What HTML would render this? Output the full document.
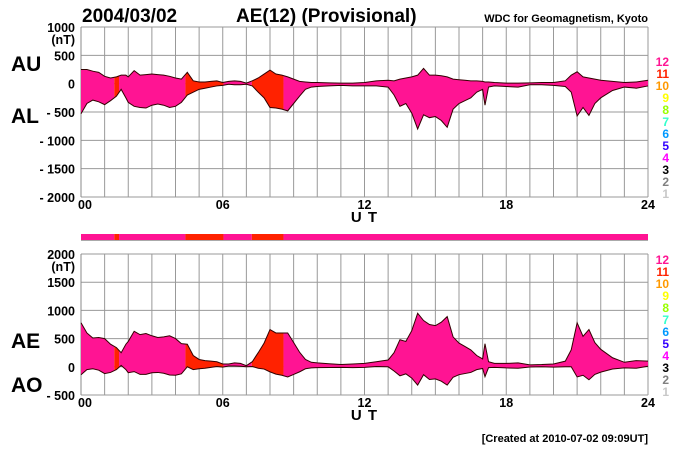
<!DOCTYPE html>
<html><head><meta charset="utf-8"><style>
html,body{margin:0;padding:0;background:#fff;}
svg{display:block;font-family:"Liberation Sans",Arial,sans-serif;font-weight:bold;}
</style></head><body>
<svg id="chart" width="700" height="450" viewBox="0 0 700 450" xmlns="http://www.w3.org/2000/svg">
<text x="82" y="22" font-size="19">2004/03/02</text>
<text x="236" y="22" font-size="19">AE(12) (Provisional)</text>
<text x="648" y="22" font-size="11" text-anchor="end">WDC for Geomagnetism, Kyoto</text>
<text x="11" y="71" font-size="21">AU</text>
<text x="11" y="123" font-size="21">AL</text>
<text x="11" y="348" font-size="21">AE</text>
<text x="11" y="392" font-size="21">AO</text>
<text x="648" y="442" font-size="11" text-anchor="end">[Created at 2010-07-02 09:09UT]</text>
<g id="top"></g><g id="bot"></g><g id="bar"></g><g id="legends"></g>
</svg>
<script>
const hours = [0,0.25,0.5,0.75,1,1.25,1.5,1.7,1.9,2,2.25,2.5,2.75,3,3.25,3.5,3.75,4,4.25,4.5,4.75,5,5.25,5.5,5.75,6,6.25,6.5,6.75,7,7.25,7.5,7.75,8,8.25,8.5,8.75,9,9.25,9.5,9.75,10,10.5,11,11.5,12,12.5,13,13.25,13.5,13.75,14,14.25,14.5,14.75,15,15.25,15.5,15.75,16,16.25,16.5,16.75,17,17.1,17.25,17.5,18,18.5,19,19.5,20,20.5,20.75,21,21.25,21.5,21.75,22,22.5,23,23.5,24];
const auValues = [250,250,220,200,130,100,120,150,150,120,230,150,160,170,160,150,130,100,80,200,50,30,30,40,50,20,40,50,40,10,50,100,170,240,170,150,120,80,40,30,20,20,15,10,10,20,50,60,50,80,100,120,150,270,150,150,140,120,80,70,60,50,50,40,30,30,20,10,10,15,20,20,50,150,210,120,100,80,60,40,20,30,60];
const alValues = [-530,-350,-290,-320,-370,-300,-220,-100,-250,-330,-400,-420,-430,-380,-360,-380,-420,-400,-330,-200,-150,-100,-80,-60,-40,-30,-10,-20,-20,-10,-40,-150,-250,-420,-430,-450,-480,-350,-220,-100,-60,-50,-40,-30,-40,-40,-40,-60,-200,-400,-350,-520,-800,-550,-600,-580,-650,-770,-450,-350,-300,-250,-150,-100,-380,-60,-40,-50,-60,-20,-20,-30,-50,-150,-570,-420,-560,-350,-250,-120,-60,-80,-40];
const segStart = [0,1.41,1.61,4.42,6.03,7.23,8.57];
const segEnd = [1.41,1.61,4.42,6.03,7.23,8.57,24];
const segCount = [12,11,12,11,12,11,12];
const topTicks = [1000,500,0,-500,-1000,-1500,-2000];
const botTicks = [2000,1500,1000,500,0,-500];
const xTickLabels = ["00","06","12","18","24"];
const legendCounts = [12,11,10,9,8,7,6,5,4,3,2,1];
const legendColors = ["#ff1493","#ff2200","#ff9900","#ffff00","#99ff00","#33ffcc","#0099ff","#3300ff","#ff00ff","#000000","#808080","#c8c8c8"];

const NS="http://www.w3.org/2000/svg";
const X0=81,X1=648;
const x=h=>X0+(X1-X0)*h/24;
const colorFor=c=>legendColors[legendCounts.indexOf(c)];
function mk(tag,attrs,parent){const e=document.createElementNS(NS,tag);for(const k in attrs)e.setAttribute(k,attrs[k]);parent.appendChild(e);return e;}

function panel(g,id,ytop,ybot,vmax,vmin,ticks,upper,lower,unitY){
  const y=v=>ytop+(vmax-v)*(ybot-ytop)/(vmax-vmin);
  for(const t of ticks){
    const l=mk('line',{x1:X0,x2:X1,y1:y(t),y2:y(t),stroke:'#999','stroke-width':1},g);
    
    
    const tx=mk('text',{x:75,y:y(t)+5,'font-size':12.5,'text-anchor':'end'},g);
    tx.textContent=t<0?('- '+(-t)):String(t);
    
    
  }
  const u=mk('text',{x:75,y:unitY,'font-size':12.5,'text-anchor':'end'},g);u.textContent='(nT)';
  
  
  for(let h=0;h<=24;h++){
    const l=mk('line',{x1:x(h),x2:x(h),y1:ytop,y2:ybot,stroke:'#999','stroke-width':1},g);
    
    
  }
  mk('line',{x1:X0,x2:X0,y1:ytop,y2:ybot,stroke:'#888'},g);
  xTickLabels.forEach((s,i)=>{
    const t=mk('text',{x:x(i*6)+(i==0?4:0),y:ybot+12,'font-size':12.5,'text-anchor':'middle'},g);t.textContent=s;
    
    
  });
  const ut=mk('text',{x:x(12),y:ybot+25,'font-size':15,'text-anchor':'middle','letter-spacing':'1'},g);ut.textContent='U T';
  
  
  let d='M'+hours.map((h,i)=>x(h)+','+y(upper[i])).join(' L');
  for(let i=hours.length-1;i>=0;i--)d+=' L'+x(hours[i])+','+y(lower[i]);
  d+=' Z';
  segStart.forEach((s,i)=>{
    const cid=id+'clip'+i;
    const cp=mk('clipPath',{id:cid},g);
    mk('rect',{x:x(s),y:ytop,width:x(segEnd[i])-x(s),height:ybot-ytop},cp);
    const p=mk('path',{d:d,fill:colorFor(segCount[i]),'clip-path':'url(#'+cid+')'},g);
    
    
  });
  const lu=mk('polyline',{points:hours.map((h,i)=>x(h)+','+y(upper[i])).join(' '),fill:'none',stroke:'#300','stroke-width':1},g);
  
  
  const ll=mk('polyline',{points:hours.map((h,i)=>x(h)+','+y(lower[i])).join(' '),fill:'none',stroke:'#300','stroke-width':1},g);
  
  
}
const aeValues=auValues.map((v,i)=>v-alValues[i]);
const aoValues=auValues.map((v,i)=>(v+alValues[i])/2);
panel(document.getElementById('top'),'t',27,197,1000,-2000,topTicks,auValues,alValues,44);
panel(document.getElementById('bot'),'b',254,395,2000,-500,botTicks,aeValues,aoValues,271);

const bar=document.getElementById('bar');
segStart.forEach((s,i)=>{
  const r=mk('rect',{x:x(s),y:234,width:x(segEnd[i])-x(s),height:6,fill:colorFor(segCount[i])},bar);
  
  
});
mk('line',{x1:X0,x2:X1,y1:240.5,y2:240.5,stroke:'#aaa'},bar);

const lg=document.getElementById('legends');
[66,264].forEach(y0=>{
  legendCounts.forEach((c,i)=>{
    const t=mk('text',{x:669,y:y0+i*12,'font-size':12,'text-anchor':'end',fill:legendColors[i]},lg);
    t.textContent=String(c);
    
    
  });
});
</script>
</body></html>
